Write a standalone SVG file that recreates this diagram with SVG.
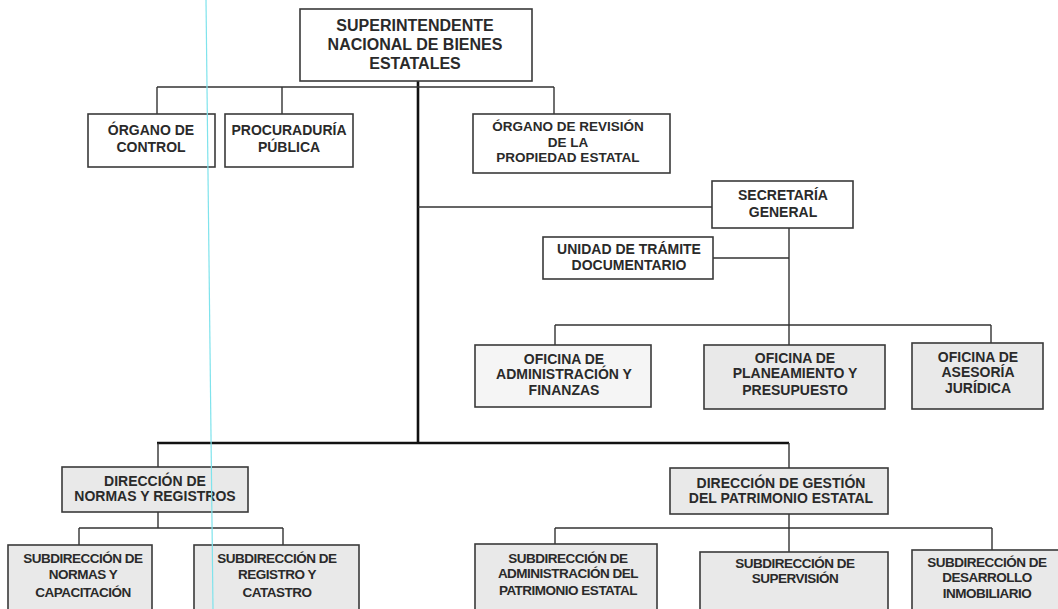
<svg xmlns="http://www.w3.org/2000/svg" width="1058" height="609" viewBox="0 0 1058 609">
<style>
.b{fill:#fff;stroke:#3a3a3a;stroke-width:1.6}
.w{fill:#f5f5f5;stroke:#3a3a3a;stroke-width:1.6}
.g{fill:#e9e9e9;stroke:#3a3a3a;stroke-width:1.6}
.t{font-family:"Liberation Sans",Arial,sans-serif;font-weight:bold;font-size:14px;fill:#2a2a2a;text-anchor:middle}
.tl{font-size:16px}
.ts{font-size:13.5px}
.tc{font-size:13.5px;letter-spacing:-0.5px}
.c{fill:none;stroke:#333;stroke-width:1.4}
.m{fill:none;stroke:#111;stroke-width:2.6}
</style>
<rect width="1058" height="609" fill="#fff"/>
<g id="connectors">
<path class="m" d="M418 81V443M157 443H789"/>
<path class="c" d="M157 87H554M157 87V114M282 87V114M554 87V114"/>
<path class="c" d="M418 207H712M789 228V325M713 258H789M555 325H991M555 325V345M789 325V345M991 325V343"/>
<path class="c" d="M158 443V467M158 512V528M79 528H283M79 528V545M283 528V545"/>
<path class="c" d="M789 443V468M789 514V528M555 528H992M555 528V544M789 528V552M992 528V550"/>
</g>
<g id="superintendente"><rect class="b" x="300" y="9" width="232" height="72"/>
<text class="t tl" x="415" y="31">SUPERINTENDENTE</text><text class="t tl" x="415" y="50">NACIONAL DE BIENES</text><text class="t tl" x="415" y="69">ESTATALES</text></g>
<g id="organo-control"><rect class="b" x="88" y="114" width="127" height="53"/>
<text class="t" x="151" y="135">ÓRGANO DE</text><text class="t" x="151" y="152">CONTROL</text></g>
<g id="procuraduria"><rect class="b" x="225" y="114" width="128" height="53"/>
<text class="t" x="289" y="135">PROCURADURÍA</text><text class="t" x="289" y="152">PÚBLICA</text></g>
<g id="organo-revision"><rect class="b" x="473" y="114" width="197" height="59"/>
<text class="t ts" x="568" y="131">ÓRGANO DE REVISIÓN</text><text class="t ts" x="568" y="147">DE LA</text><text class="t ts" x="568" y="162">PROPIEDAD ESTATAL</text></g>
<g id="secretaria"><rect class="b" x="712" y="181" width="141" height="47"/>
<text class="t" x="783" y="200">SECRETARÍA</text><text class="t" x="783" y="217">GENERAL</text></g>
<g id="unidad-tramite"><rect class="b" x="543" y="237" width="170" height="42"/>
<text class="t" x="629" y="254">UNIDAD DE TRÁMITE</text><text class="t" x="629" y="270">DOCUMENTARIO</text></g>
<g id="oficina-administracion"><rect class="w" x="475" y="345" width="176" height="62"/>
<text class="t" x="564" y="364">OFICINA DE</text><text class="t" x="564" y="379">ADMINISTRACIÓN Y</text><text class="t" x="564" y="395">FINANZAS</text></g>
<g id="oficina-planeamiento"><rect class="g" x="704" y="345" width="181" height="64"/>
<text class="t" x="795" y="363">OFICINA DE</text><text class="t" x="795" y="378">PLANEAMIENTO Y</text><text class="t" x="795" y="395">PRESUPUESTO</text></g>
<g id="oficina-asesoria"><rect class="g" x="912" y="343" width="131" height="66"/>
<text class="t" x="978" y="362">OFICINA DE</text><text class="t" x="978" y="377">ASESORÍA</text><text class="t" x="978" y="393">JURÍDICA</text></g>
<g id="direccion-normas"><rect class="g" x="62" y="467" width="186" height="45"/>
<text class="t" x="155" y="486">DIRECCIÓN DE</text><text class="t" x="155" y="501">NORMAS Y REGISTROS</text></g>
<g id="direccion-gestion"><rect class="g" x="670" y="468" width="218" height="46"/>
<text class="t" x="781" y="488">DIRECCIÓN DE GESTIÓN</text><text class="t" x="781" y="503">DEL PATRIMONIO ESTATAL</text></g>
<g id="sub-normas"><rect class="g" x="8" y="545" width="144" height="70"/>
<text class="t tc" x="83" y="563">SUBDIRECCIÓN DE</text><text class="t tc" x="83" y="579">NORMAS Y</text><text class="t tc" x="83" y="597">CAPACITACIÓN</text></g>
<g id="sub-registro"><rect class="g" x="194" y="545" width="165" height="70"/>
<text class="t tc" x="277" y="563">SUBDIRECCIÓN DE</text><text class="t tc" x="277" y="579">REGISTRO Y</text><text class="t tc" x="277" y="597">CATASTRO</text></g>
<g id="sub-administracion"><rect class="g" x="475" y="544" width="182" height="71"/>
<text class="t tc" x="568" y="563">SUBDIRECCIÓN DE</text><text class="t tc" x="568" y="578">ADMINISTRACIÓN DEL</text><text class="t tc" x="568" y="595">PATRIMONIO ESTATAL</text></g>
<g id="sub-supervision"><rect class="g" x="700" y="552" width="188" height="63"/>
<text class="t tc" x="795" y="568">SUBDIRECCIÓN DE</text><text class="t tc" x="795" y="583">SUPERVISIÓN</text></g>
<g id="sub-desarrollo"><rect class="g" x="912" y="550" width="160" height="65"/>
<text class="t tc" x="987" y="567">SUBDIRECCIÓN DE</text><text class="t tc" x="987" y="582">DESARROLLO</text><text class="t tc" x="987" y="598">INMOBILIARIO</text></g>
<line x1="206" y1="0" x2="213" y2="609" stroke="#7fe3ec" stroke-width="1.2"/>
</svg>
